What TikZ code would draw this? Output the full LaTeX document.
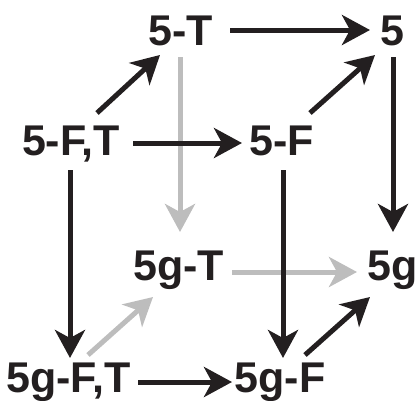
\documentclass[tikz,border=0pt]{standalone}
\usepackage{fontspec}
\setmainfont{Liberation Sans}
\usetikzlibrary{arrows.meta}
\definecolor{lgray}{HTML}{BDBDBD}
\definecolor{ink}{HTML}{231F20}
\tikzset{
  lbl/.style={anchor=base, inner sep=0pt, font=\bfseries\fontsize{43}{43}\selectfont, text=ink},
  arr/.style={line width=5pt, draw=ink, -{Stealth[length=28pt,width=30pt,inset=8pt]}},
  garr/.style={arr, draw=lgray},
}
\begin{document}
\begin{tikzpicture}[x=1pt,y=-1pt]
\useasboundingbox (0,0) rectangle (418,400);
\node[lbl] (t)   at (181,45)   {5-T};
\node[lbl] (f5)  at (392.5,45) {5};
\node[lbl] (ft)  at (71,155)   {5-F,T};
\node[lbl] (f)   at (281.5,155){5-F};
\node[lbl] (gt)  at (178.5,280){5g-T};
\node[lbl] (g)   at (392.5,280){5g};
\node[lbl] (gft) at (68.5,392) {5g-F,T};
\node[lbl] (gf)  at (280,392)  {5g-F};
% gray connectors (behind)
\draw[garr] ([shift={(-1,12)}]t.base) -- ([shift={(1.5,-48)}]gt.base);
\draw[garr] ([shift={(53.5,-8)}]gt.base) -- ([shift={(-35.5,-8)}]g.base);
\draw[garr] ([shift={(19.5,-37)}]gft.base) -- ([shift={(-25.5,17)}]gt.base);
% black connectors
\draw[arr] ([shift={(49,-15)}]t.base) -- ([shift={(-22.5,-15)}]f5.base);
\draw[arr] ([shift={(26,-42)}]ft.base) -- ([shift={(-21,10)}]t.base);
\draw[arr] ([shift={(62,-12)}]ft.base) -- ([shift={(-39.5,-12)}]f.base);
\draw[arr] ([shift={(28.5,-42)}]f.base) -- ([shift={(-17.5,10)}]f5.base);
\draw[arr] ([shift={(0.5,12)}]f5.base) -- ([shift={(0.5,-48)}]g.base);
\draw[arr] ([shift={(-1,15)}]ft.base) -- ([shift={(1.5,-34)}]gft.base);
\draw[arr] ([shift={(1.5,15)}]f.base) -- ([shift={(3,-34)}]gf.base);
\draw[arr] ([shift={(25,-37)}]gf.base) -- ([shift={(-22.5,17)}]g.base);
\draw[arr] ([shift={(69.5,-10)}]gft.base) -- ([shift={(-48,-10)}]gf.base);
\end{tikzpicture}
\end{document}
